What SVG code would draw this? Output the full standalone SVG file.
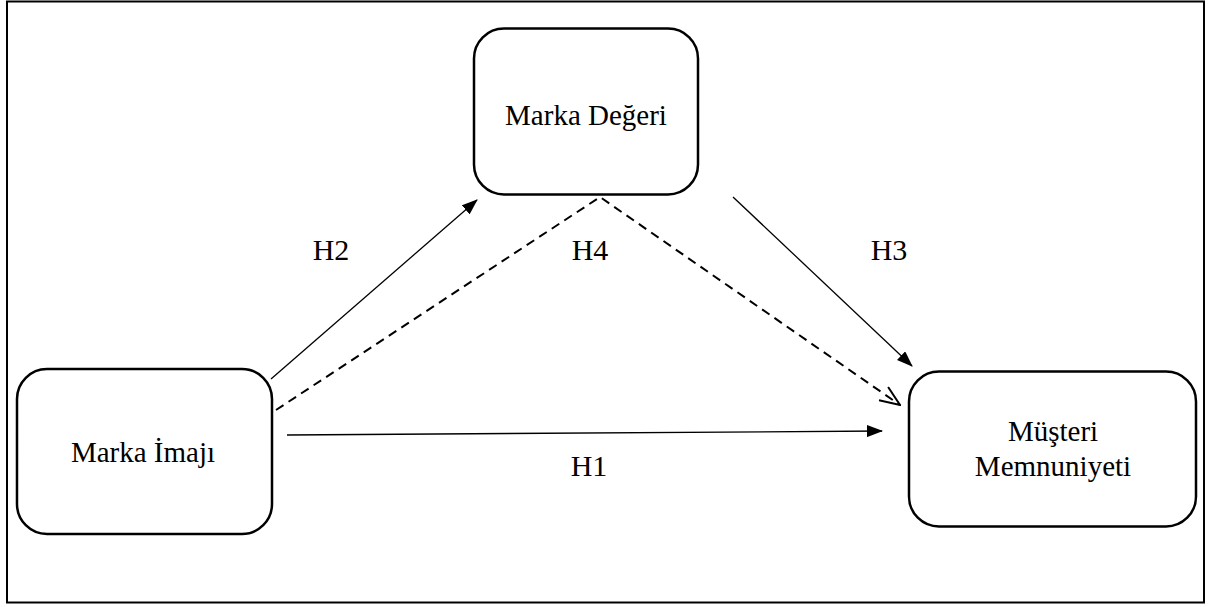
<svg xmlns="http://www.w3.org/2000/svg" width="1209" height="607" viewBox="0 0 1209 607">
<style>
.node{fill:#fff;stroke:#000;stroke-width:2.5}
.t{font-family:"Liberation Serif",serif;font-size:29px;fill:#000;text-anchor:middle}
.lbl{font-family:"Liberation Serif",serif;font-size:30px;fill:#000;text-anchor:middle}
.c{fill:none;stroke:#000;stroke-width:1.3}
.d{fill:none;stroke:#000;stroke-width:2;stroke-dasharray:9,6}
</style>
<defs>
<marker id="ah" markerWidth="16" markerHeight="12" refX="15" refY="6" orient="auto" markerUnits="userSpaceOnUse">
<path d="M0,0 L16,6 L0,12 Z" fill="#000"/>
</marker>
<marker id="oh" markerWidth="22" markerHeight="18" refX="21" refY="9" orient="auto" markerUnits="userSpaceOnUse">
<path d="M1,1 L21,9 L1,17" fill="none" stroke="#000" stroke-width="2"/>
</marker>
</defs>
<rect x="7" y="1.5" width="1197" height="601" fill="#fff" stroke="#000" stroke-width="2"/>
<g id="connectors">
<line class="c" x1="271" y1="379" x2="477" y2="200" marker-end="url(#ah)"/>
<line class="c" x1="733" y1="197" x2="912" y2="366" marker-end="url(#ah)"/>
<line class="c" x1="287" y1="435" x2="882" y2="431" marker-end="url(#ah)"/>
<polyline class="d" points="276,410 600,197 900,405" marker-end="url(#oh)"/>
</g>
<g id="labels">
<text class="lbl" x="331" y="260">H2</text>
<text class="lbl" x="590" y="260">H4</text>
<text class="lbl" x="889" y="260">H3</text>
<text class="lbl" x="589" y="476">H1</text>
</g>
<g id="marka-degeri">
<rect class="node" x="474" y="28.5" width="224" height="166" rx="30"/>
<text class="t" x="586" y="125">Marka Değeri</text>
</g>
<g id="marka-imaji">
<rect class="node" x="17" y="369" width="255" height="165" rx="30"/>
<text class="t" x="143" y="462">Marka İmajı</text>
</g>
<g id="musteri-memnuniyeti">
<rect class="node" x="909" y="371.5" width="287" height="155" rx="30"/>
<text class="t" x="1053" y="441">Müşteri</text>
<text class="t" x="1053" y="476">Memnuniyeti</text>
</g>
</svg>
